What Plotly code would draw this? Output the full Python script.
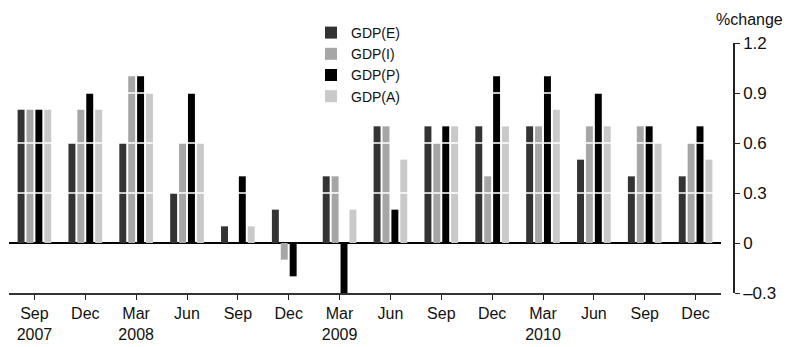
import plotly.graph_objects as go

categories = ["Sep07", "Dec07", "Mar08", "Jun08", "Sep08", "Dec08", "Mar09",
              "Jun09", "Sep09", "Dec09", "Mar10", "Jun10", "Sep10", "Dec10"]
tick_labels = ["Sep<br>2007", "Dec", "Mar<br>2008", "Jun", "Sep", "Dec", "Mar<br>2009",
               "Jun", "Sep", "Dec", "Mar<br>2010", "Jun", "Sep", "Dec"]
gdp_e = [0.8, 0.6, 0.6, 0.3, 0.1, 0.2, 0.4, 0.7, 0.7, 0.7, 0.7, 0.5, 0.4, 0.4]
gdp_i = [0.8, 0.8, 1.0, 0.6, 0.0, -0.1, 0.4, 0.7, 0.6, 0.4, 0.7, 0.7, 0.7, 0.6]
gdp_p = [0.8, 0.9, 1.0, 0.9, 0.4, -0.2, -0.3, 0.2, 0.7, 1.0, 1.0, 0.9, 0.7, 0.7]
gdp_a = [0.8, 0.8, 0.9, 0.6, 0.1, 0.0, 0.2, 0.5, 0.7, 0.7, 0.8, 0.7, 0.6, 0.5]
y_ticks = [-0.3, 0, 0.3, 0.6, 0.9, 1.2]
y_tick_text = ["\u20130.3", "0", "0.3", "0.6", "0.9", "1.2"]
grid_vals = [0.3, 0.6, 0.9]

series = [("GDP(E)", gdp_e, "#333333"), ("GDP(I)", gdp_i, "#a6a6a6"),
          ("GDP(P)", gdp_p, "#000000"), ("GDP(A)", gdp_a, "#c9c9c9")]

FONT = "Liberation Sans, Arial, sans-serif"

# pixel geometry helpers (plot area: x 9..734, y 5..293)
W, H = 789, 347
ML, MR, MT, MB = 9, 55, 5, 54
PW = W - ML - MR
PH = H - MT - MB

def px_x(p):
    return (p - ML) / PW

def px_y(p):
    return (H - MB - p) / PH

fig = go.Figure()
for name, vals, col in series:
    fig.add_trace(go.Bar(x=categories, y=vals, name=name,
                         marker=dict(color=col, line=dict(width=0))))

shapes = [dict(type="line", xref="x domain", yref="y", x0=0, x1=1, y0=g, y1=g,
               line=dict(color="white", width=1.5), layer="above") for g in grid_vals]

fig.update_layout(
    width=W, height=H,
    margin=dict(l=ML, r=MR, t=MT, b=MB),
    paper_bgcolor="white", plot_bgcolor="white",
    barmode="group", bargap=0.3, bargroupgap=0.22,
    showlegend=True,
    legend=dict(x=px_x(311), y=px_y(17), xanchor="left", yanchor="top",
                font=dict(family=FONT, size=14, color="#111"),
                bgcolor="rgba(0,0,0,0)", tracegroupgap=0, itemwidth=30),
    xaxis=dict(domain=[0, px_x(721)], tickmode="array", tickvals=categories, ticktext=tick_labels,
               ticks="outside", ticklen=5, tickcolor="#222", tickwidth=1.2,
               showline=True, linecolor="#333", linewidth=1.5, showgrid=False,
               automargin=False,
               tickfont=dict(family=FONT, size=16, color="#111"), tickangle=0),
    yaxis=dict(domain=[0, px_y(43)], side="right", anchor="free", position=px_x(734),
               range=[-0.3, 1.2],
               tickmode="array", tickvals=y_ticks, ticktext=y_tick_text,
               ticks="outside", ticklen=5, tickcolor="#222", tickwidth=1.2,
               showline=True, linecolor="#222", linewidth=1.5, showgrid=False,
               zeroline=True, zerolinecolor="#000", zerolinewidth=1.5,
               automargin=False,
               tickfont=dict(family=FONT, size=17, color="#111")),
    shapes=shapes,
    annotations=[dict(text="%change", xref="paper", yref="paper", x=px_x(749), y=px_y(30),
                      xanchor="center", yanchor="bottom", showarrow=False,
                      font=dict(family=FONT, size=16, color="#111"))],
)

fig.write_html("out.html", config={"displayModeBar": False},
               post_script="document.body.style.margin='0px';")
